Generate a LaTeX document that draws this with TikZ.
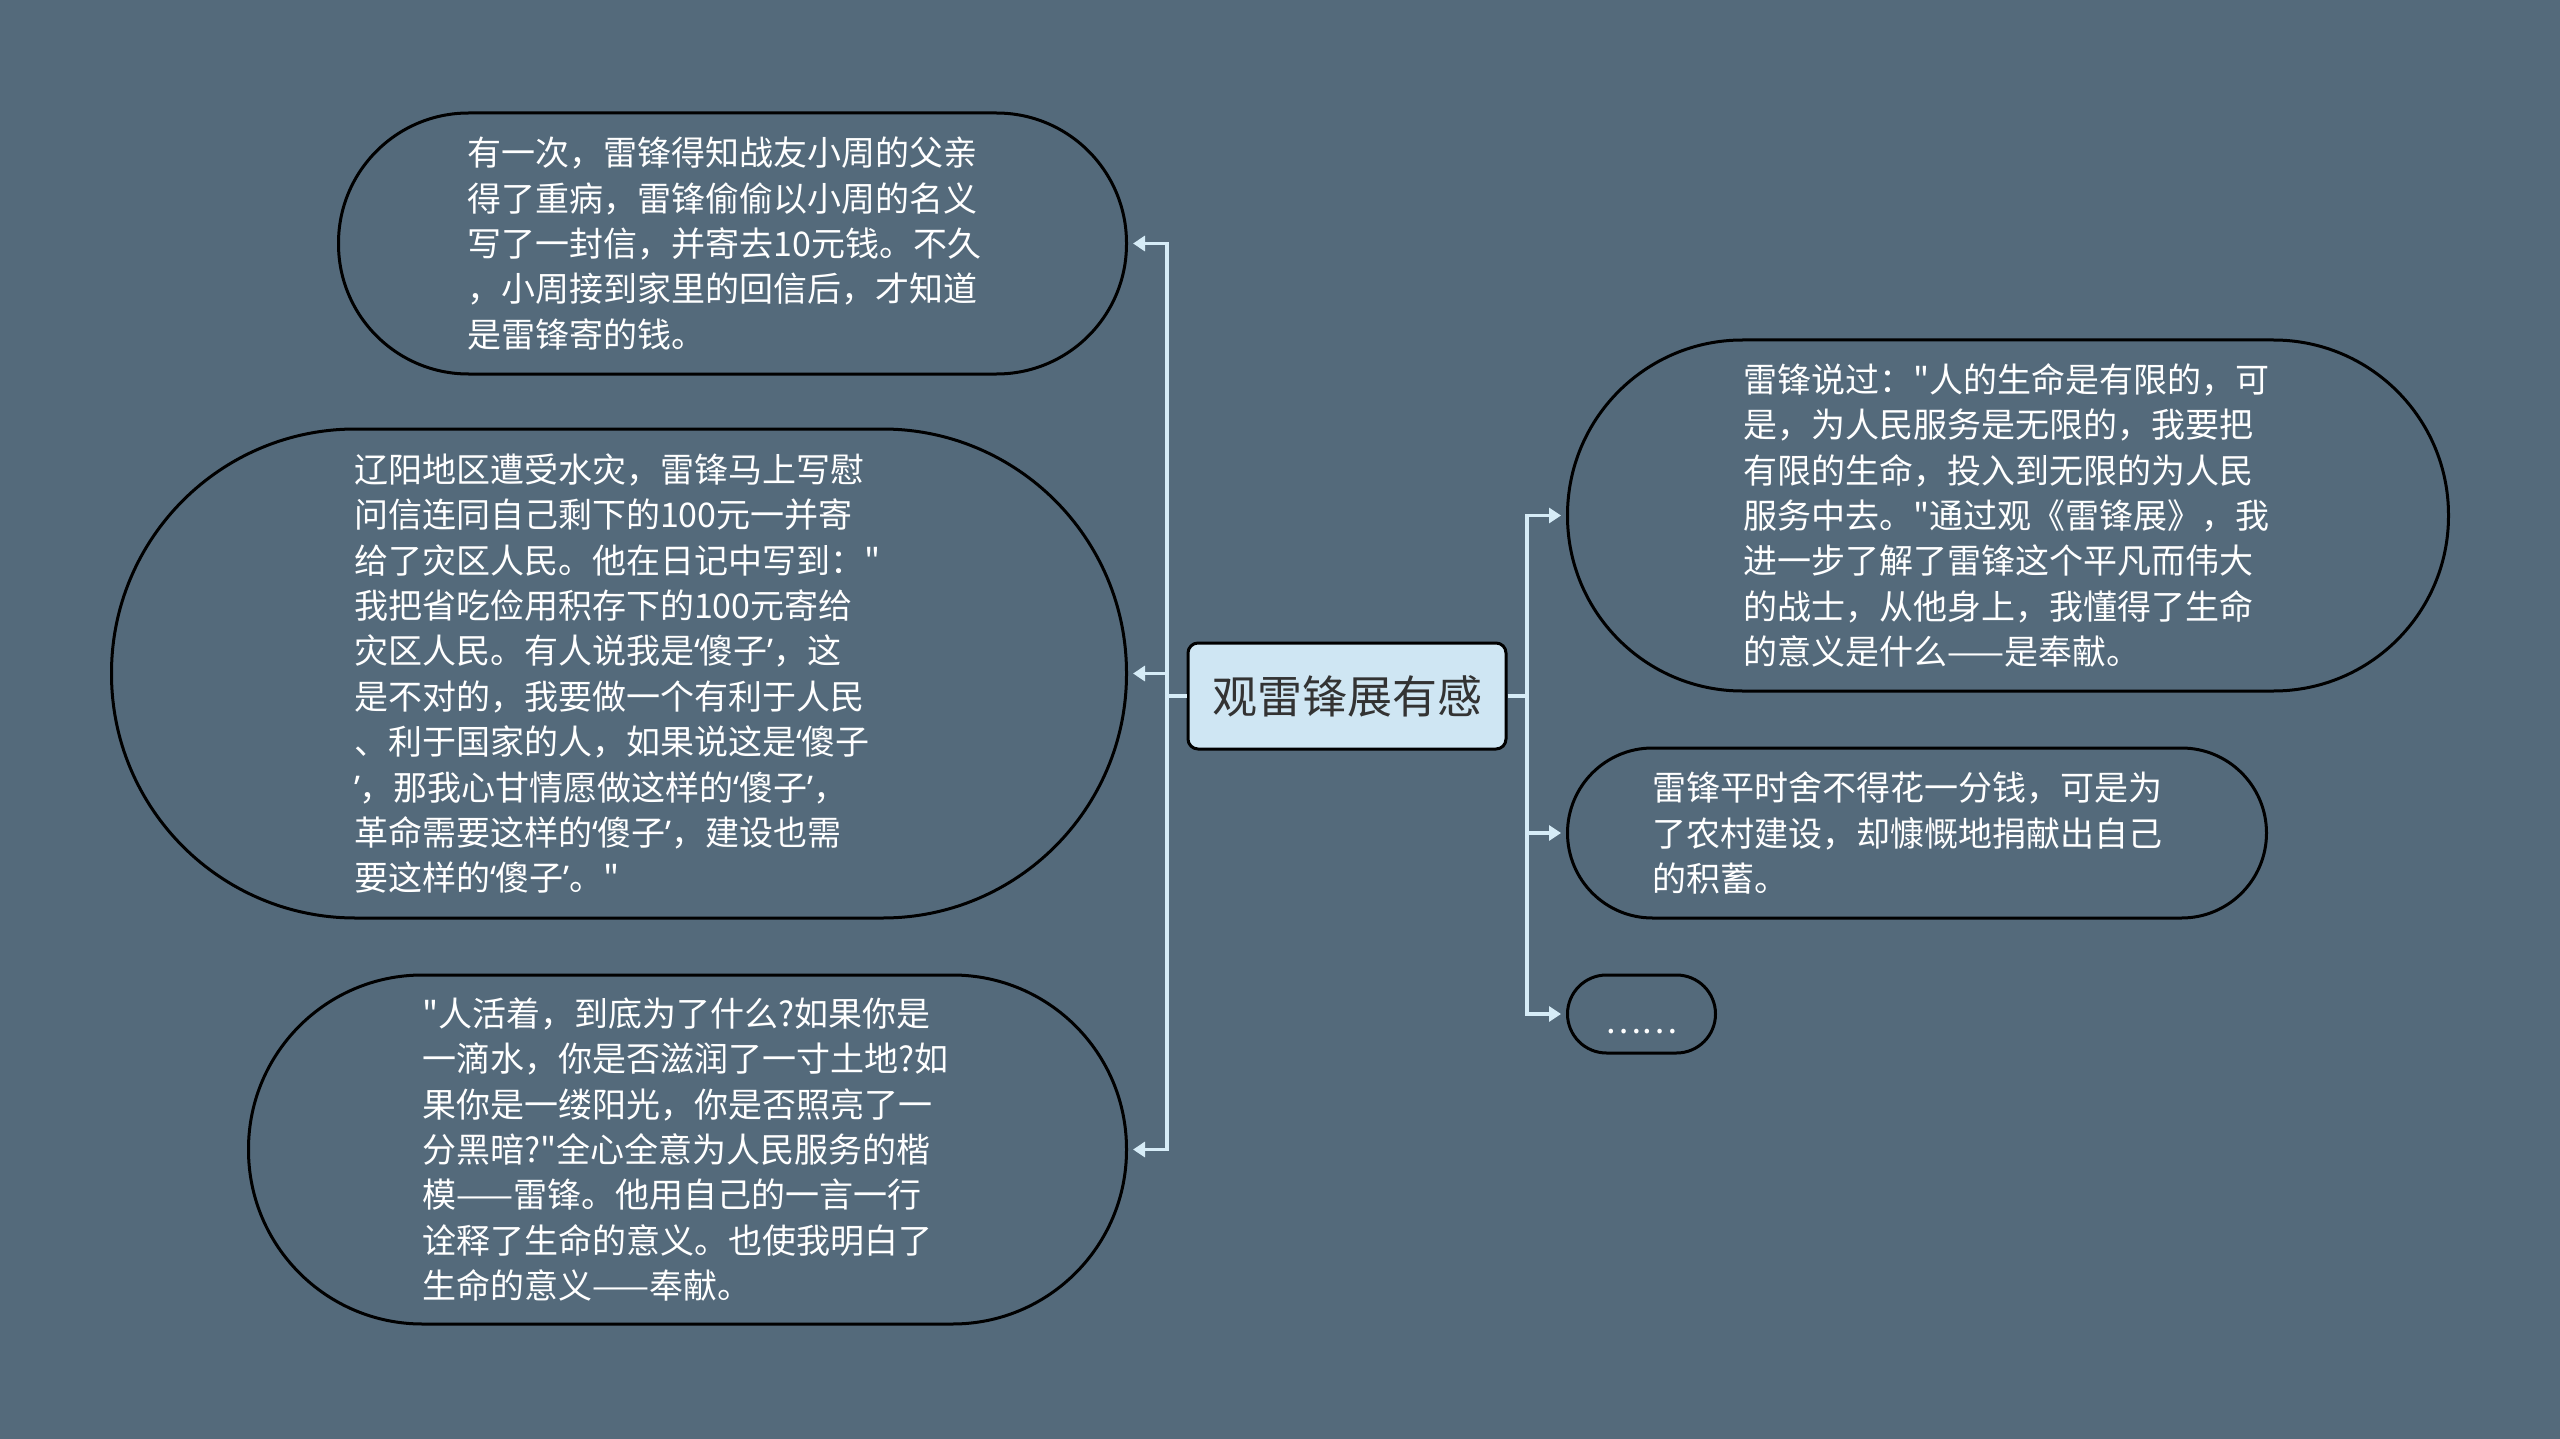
\documentclass[tikz,border=0pt]{standalone}
\usepackage{fontspec}
\newfontfamily\cjk{Noto Sans CJK SC}
\newfontfamily\quotefont{Noto Sans}
\newcommand\lquo{{\quotefont ‘}}
\newcommand\rquo{{\quotefont ’}}
\usetikzlibrary{arrows.meta}

\definecolor{bgslate}{RGB}{84,106,123}
\definecolor{linkblue}{RGB}{214,236,247}
\definecolor{rootfill}{RGB}{207,230,243}
\definecolor{roottext}{RGB}{51,51,51}

\tikzset{
  leaf/.style={draw=black, line width=3pt, text=white, align=left,
    text width=530pt, inner sep=0pt, font=\cjk\fontsize{34}{45.4}\selectfont},
  root/.style={draw=black, line width=3pt, fill=rootfill, text=roottext,
    rounded corners=10pt, minimum width=318pt, minimum height=106pt,
    inner sep=0pt, font=\cjk\fontsize{45}{54}\selectfont},
  link/.style={draw=linkblue, line width=3.5pt,
    -{Triangle[length=12pt,width=15pt]}, shorten >=5pt},
  stub/.style={draw=linkblue, line width=3.5pt}
}

\begin{document}
\begin{tikzpicture}[x=1pt,y=-1pt]
  \useasboundingbox (0,0) rectangle (2560,1439);
  \fill[bgslate] (0,0) rectangle (2560,1439);

  % centre
  \node[root] (topic) at (1347,696) {观雷锋展有感};

  % left branch
  \node[leaf, anchor=east, minimum width=788pt, minimum height=261pt,
    rounded corners=130pt] (gift) at (1128,243.5)
    {有一次，雷锋得知战友小周的父亲\\得了重病，雷锋偷偷以小周的名义\\写了一封信，并寄去10元钱。不久\\，小周接到家里的回信后，才知道\\是雷锋寄的钱。};
  \node[leaf, anchor=east, minimum width=1015pt, minimum height=489pt,
    rounded corners=244pt] (flood) at (1128,673.5)
    {辽阳地区遭受水灾，雷锋马上写慰\\问信连同自己剩下的100元一并寄\\给了灾区人民。他在日记中写到："\\我把省吃俭用积存下的100元寄给\\灾区人民。有人说我是\lquo 傻子\rquo ，这\\是不对的，我要做一个有利于人民\\、利于国家的人，如果说这是\lquo 傻子\\\rquo ，那我心甘情愿做这样的\lquo 傻子\rquo ，\\革命需要这样的\lquo 傻子\rquo ，建设也需\\要这样的\lquo 傻子\rquo 。"};
  \node[leaf, anchor=east, minimum width=878pt, minimum height=349pt,
    rounded corners=174pt] (water) at (1128,1149.5)
    {"人活着，到底为了什么?如果你是\\一滴水，你是否滋润了一寸土地?如\\果你是一缕阳光，你是否照亮了一\\分黑暗?"全心全意为人民服务的楷\\模——雷锋。他用自己的一言一行\\诠释了生命的意义。也使我明白了\\生命的意义——奉献。};

  % right branch
  \node[leaf, anchor=west, minimum width=881pt, minimum height=351pt,
    rounded corners=175pt] (saying) at (1566,515.5)
    {雷锋说过："人的生命是有限的，可\\是，为人民服务是无限的，我要把\\有限的生命，投入到无限的为人民\\服务中去。"通过观《雷锋展》，我\\进一步了解了雷锋这个平凡而伟大\\的战士，从他身上，我懂得了生命\\的意义是什么——是奉献。};
  \node[leaf, anchor=west, minimum width=699pt, minimum height=170pt,
    rounded corners=85pt] (saving) at (1566,833)
    {雷锋平时舍不得花一分钱，可是为\\了农村建设，却慷慨地捐献出自己\\的积蓄。};
  \node[leaf, anchor=west, text width=, align=center, minimum width=148pt,
    minimum height=78pt, rounded corners=39pt] (more) at (1566,1014)
    {\raisebox{-19pt}[0pt][0pt]{……}};

  % connectors
  \coordinate (lj) at (1167,696);
  \coordinate (rj) at (1527,696);
  \draw[stub] (topic.west) -- (lj);
  \draw[stub] (topic.east) -- (rj);
  \draw[link] (lj) |- (gift.east);
  \draw[link] (lj) |- (flood.east);
  \draw[link] (lj) |- (water.east);
  \draw[link] (rj) |- (saying.west);
  \draw[link] (rj) |- (saving.west);
  \draw[link] (rj) |- (more.west);
\end{tikzpicture}
\end{document}
